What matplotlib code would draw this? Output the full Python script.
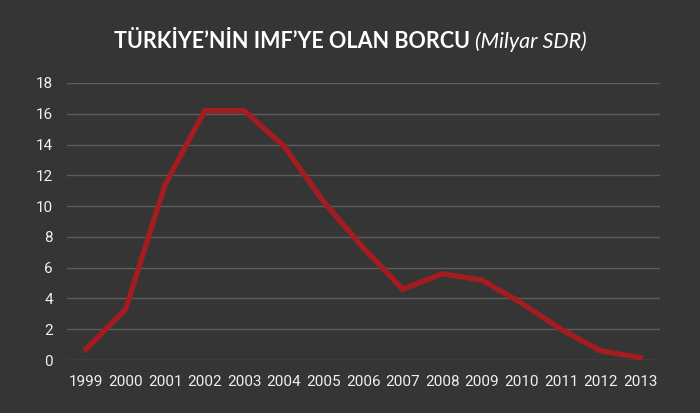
import matplotlib
matplotlib.use("Agg")
import matplotlib.pyplot as plt

plt.rcParams["font.family"] = ["Roboto", "DejaVu Sans"]

# veriler (milyar SDR)
years = [1999, 2000, 2001, 2002, 2003, 2004, 2005, 2006, 2007, 2008, 2009, 2010, 2011, 2012, 2013]
debt = [0.7, 3.3, 11.4, 16.2, 16.2, 13.9, 10.3, 7.3, 4.6, 5.6, 5.2, 3.7, 2.0, 0.6, 0.15]
yticks = [0, 2, 4, 6, 8, 10, 12, 14, 16, 18]

bg = "#353535"
red = "#a51c20"

fig = plt.figure(figsize=(7, 4.13), dpi=100, facecolor=bg)
ax = fig.add_axes([67 / 700, 1 - 360 / 413, (660 - 67) / 700, (360 - 83) / 413])
ax.set_facecolor(bg)

ax.plot(years, debt, color=red, linewidth=3.8, solid_joinstyle="miter", clip_on=False, zorder=3)

ax.set_xlim(1998.52, 2013.5)
ax.set_ylim(0, 18)
ax.set_yticks(yticks)
ax.set_xticks(years)
ax.set_xticklabels([str(y) for y in years])
ax.grid(axis="y", color="#5c5c5c", linewidth=1)
ax.set_axisbelow(True)
for s in ax.spines.values():
    s.set_visible(False)
ax.tick_params(length=0, colors="#f0f0f0", labelsize=11)
ax.tick_params(axis="y", pad=10)
ax.tick_params(axis="x", pad=11)

# başlık: kalın kısım + italik kısım
t1 = fig.text(0, 0, "TÜRKİYE’NİN IMF’YE OLAN BORCU ", fontsize=15.5, fontweight="bold",
              family="Lato", color="white")
t2 = fig.text(0, 0, "(Milyar SDR)", fontsize=15.5, style="italic", family="Lato", color="white")
fig.canvas.draw()
r = fig.canvas.get_renderer()
w1 = t1.get_window_extent(r).width
w2 = t2.get_window_extent(r).width
x0 = 350 - (w1 + w2) / 2
ty = 1 - 48 / 413
t1.set_position((x0 / 700, ty))
t2.set_position(((x0 + w1) / 700, ty))

fig.savefig("out.png", dpi=100, facecolor=bg)
